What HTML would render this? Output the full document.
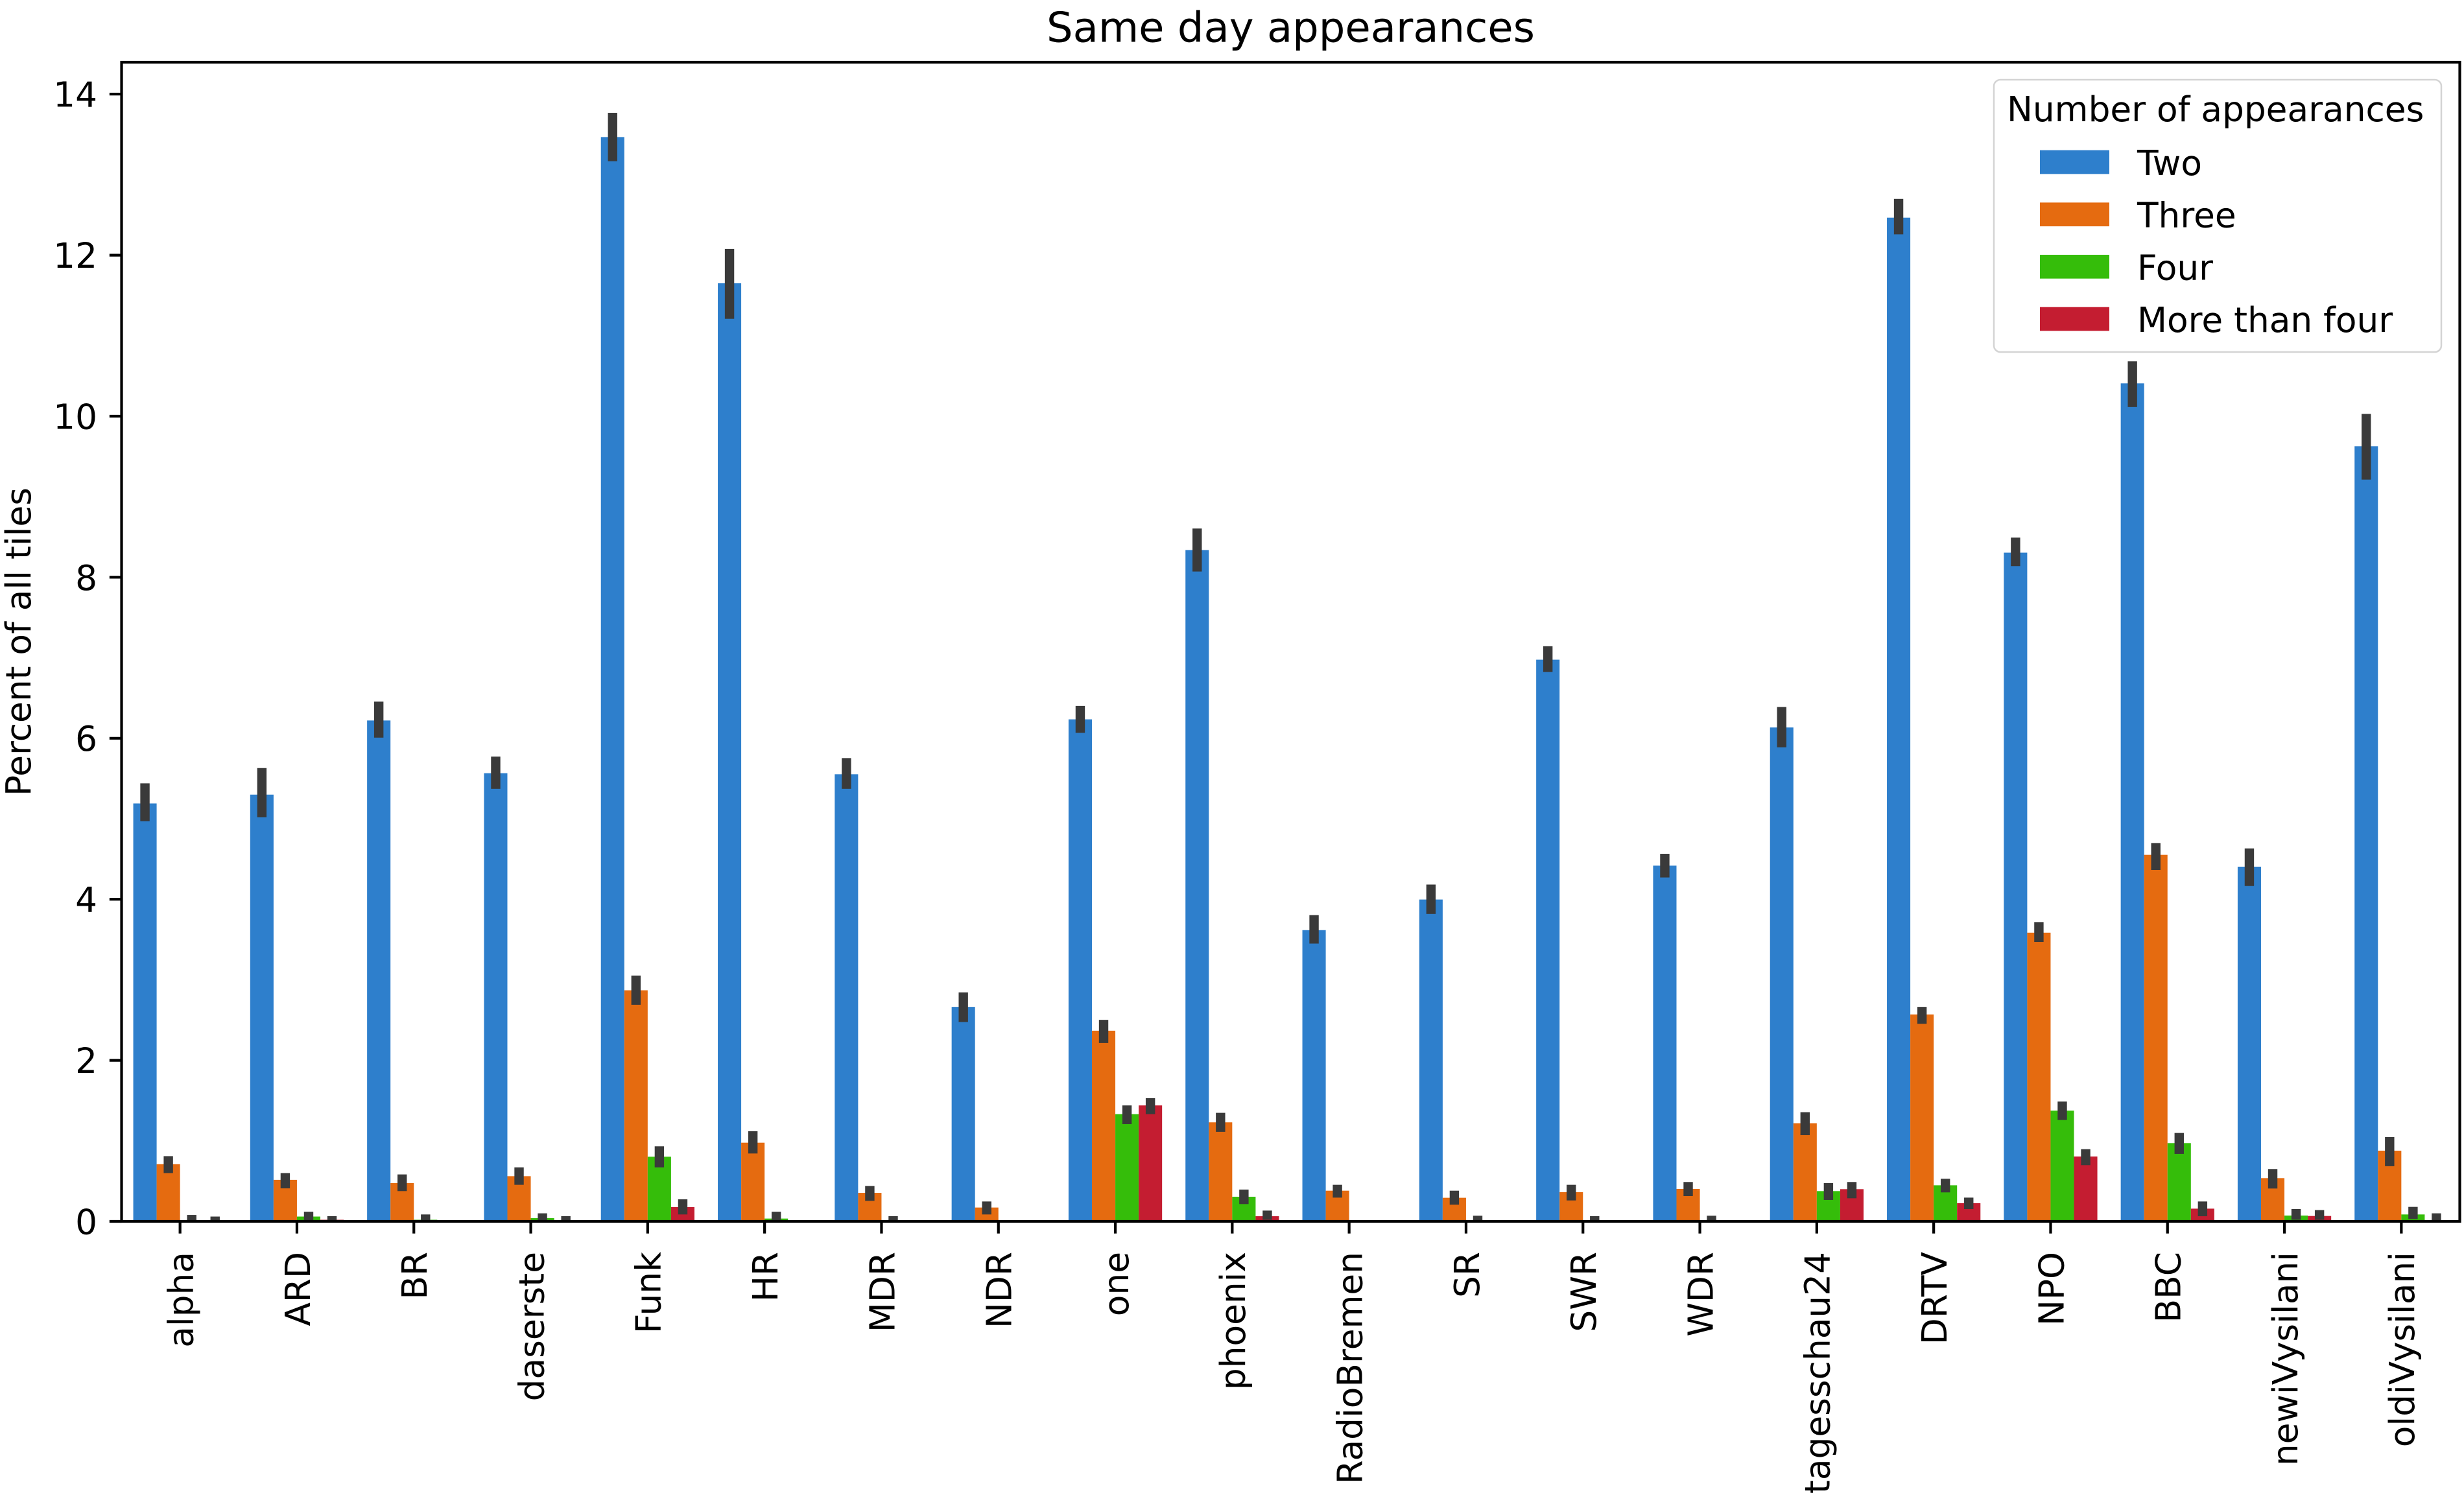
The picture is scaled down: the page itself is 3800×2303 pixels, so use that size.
<!DOCTYPE html>
<html>
<head>
<meta charset="utf-8">
<style>
html,body{margin:0;padding:0;background:#fff;}
svg{display:block;}
text{font-family:"DejaVu Sans","Liberation Sans",sans-serif;fill:#000;}
.b{fill:#2e7fcc}.o{fill:#e56b10}.g{fill:#35bd0a}.r{fill:#c41d31}.e{fill:#3a3a3a}
.xt{font-size:53.3px;}
</style>
</head>
<body>
<svg width="3800" height="2303" viewBox="0 0 3800 2303" xmlns="http://www.w3.org/2000/svg">
<rect x="0" y="0" width="3800" height="2303" fill="#fff"/>

<!-- bars (data units in y) -->
<g transform="translate(0,1884) scale(1,-124.2)">
  <!-- alpha -->
  <g transform="translate(277.65,0)">
    <rect class="b" x="-72.12" y="0" width="36.06" height="5.19"/>
    <rect class="o" x="-36.06" y="0" width="36.06" height="0.71"/>
    <rect class="g" x="0" y="0" width="36.06" height="0.015"/>
    <rect class="r" x="36.06" y="0" width="36.06" height="0.01"/>
    <rect class="e" x="-61.29" y="4.97" width="14.4" height="0.47"/>
    <rect class="e" x="-25.23" y="0.60" width="14.4" height="0.21"/>
    <rect class="e" x="10.83" y="0" width="14.4" height="0.08"/>
    <rect class="e" x="46.89" y="0" width="14.4" height="0.06"/>
  </g>
  <!-- ARD -->
  <g transform="translate(457.95,0)">
    <rect class="b" x="-72.12" y="0" width="36.06" height="5.30"/>
    <rect class="o" x="-36.06" y="0" width="36.06" height="0.516"/>
    <rect class="g" x="0" y="0" width="36.06" height="0.06"/>
    <rect class="r" x="36.06" y="0" width="36.06" height="0.02"/>
    <rect class="e" x="-61.29" y="5.02" width="14.4" height="0.61"/>
    <rect class="e" x="-25.23" y="0.41" width="14.4" height="0.19"/>
    <rect class="e" x="10.83" y="0.01" width="14.4" height="0.11"/>
    <rect class="e" x="46.89" y="0" width="14.4" height="0.065"/>
  </g>
  <!-- BR -->
  <g transform="translate(638.25,0)">
    <rect class="b" x="-72.12" y="0" width="36.06" height="6.221"/>
    <rect class="o" x="-36.06" y="0" width="36.06" height="0.475"/>
    <rect class="g" x="0" y="0" width="36.06" height="0.02"/>
    <rect class="e" x="-61.29" y="6.008" width="14.4" height="0.447"/>
    <rect class="e" x="-25.23" y="0.376" width="14.4" height="0.207"/>
    <rect class="e" x="10.83" y="0" width="14.4" height="0.086"/>
  </g>
  <!-- daserste -->
  <g transform="translate(818.55,0)">
    <rect class="b" x="-72.12" y="0" width="36.06" height="5.566"/>
    <rect class="o" x="-36.06" y="0" width="36.06" height="0.561"/>
    <rect class="g" x="0" y="0" width="36.06" height="0.04"/>
    <rect class="r" x="36.06" y="0" width="36.06" height="0.01"/>
    <rect class="e" x="-61.29" y="5.372" width="14.4" height="0.401"/>
    <rect class="e" x="-25.23" y="0.454" width="14.4" height="0.217"/>
    <rect class="e" x="10.83" y="0.01" width="14.4" height="0.09"/>
    <rect class="e" x="46.89" y="0" width="14.4" height="0.065"/>
  </g>
  <!-- Funk -->
  <g transform="translate(998.85,0)">
    <rect class="b" x="-72.12" y="0" width="36.06" height="13.467"/>
    <rect class="o" x="-36.06" y="0" width="36.06" height="2.87"/>
    <rect class="g" x="0" y="0" width="36.06" height="0.803"/>
    <rect class="r" x="36.06" y="0" width="36.06" height="0.177"/>
    <rect class="e" x="-61.29" y="13.167" width="14.4" height="0.601"/>
    <rect class="e" x="-25.23" y="2.69" width="14.4" height="0.363"/>
    <rect class="e" x="10.83" y="0.671" width="14.4" height="0.261"/>
    <rect class="e" x="46.89" y="0.086" width="14.4" height="0.188"/>
  </g>
  <!-- HR -->
  <g transform="translate(1179.15,0)">
    <rect class="b" x="-72.12" y="0" width="36.06" height="11.651"/>
    <rect class="o" x="-36.06" y="0" width="36.06" height="0.977"/>
    <rect class="g" x="0" y="0" width="36.06" height="0.035"/>
    <rect class="e" x="-61.29" y="11.21" width="14.4" height="0.868"/>
    <rect class="e" x="-25.23" y="0.843" width="14.4" height="0.277"/>
    <rect class="e" x="10.83" y="0" width="14.4" height="0.12"/>
  </g>
  <!-- MDR -->
  <g transform="translate(1359.45,0)">
    <rect class="b" x="-72.12" y="0" width="36.06" height="5.553"/>
    <rect class="o" x="-36.06" y="0" width="36.06" height="0.354"/>
    <rect class="g" x="0" y="0" width="36.06" height="0.015"/>
    <rect class="e" x="-61.29" y="5.372" width="14.4" height="0.382"/>
    <rect class="e" x="-25.23" y="0.255" width="14.4" height="0.185"/>
    <rect class="e" x="10.83" y="0" width="14.4" height="0.065"/>
  </g>
  <!-- NDR -->
  <g transform="translate(1539.75,0)">
    <rect class="b" x="-72.12" y="0" width="36.06" height="2.664"/>
    <rect class="o" x="-36.06" y="0" width="36.06" height="0.172"/>
    <rect class="e" x="-61.29" y="2.476" width="14.4" height="0.368"/>
    <rect class="e" x="-25.23" y="0.086" width="14.4" height="0.161"/>
  </g>
  <!-- one -->
  <g transform="translate(1720.05,0)">
    <rect class="b" x="-72.12" y="0" width="36.06" height="6.235"/>
    <rect class="o" x="-36.06" y="0" width="36.06" height="2.368"/>
    <rect class="g" x="0" y="0" width="36.06" height="1.332"/>
    <rect class="r" x="36.06" y="0" width="36.06" height="1.44"/>
    <rect class="e" x="-61.29" y="6.067" width="14.4" height="0.335"/>
    <rect class="e" x="-25.23" y="2.215" width="14.4" height="0.288"/>
    <rect class="e" x="10.83" y="1.208" width="14.4" height="0.232"/>
    <rect class="e" x="46.89" y="1.332" width="14.4" height="0.198"/>
  </g>
  <!-- phoenix -->
  <g transform="translate(1900.35,0)">
    <rect class="b" x="-72.12" y="0" width="36.06" height="8.338"/>
    <rect class="o" x="-36.06" y="0" width="36.06" height="1.23"/>
    <rect class="g" x="0" y="0" width="36.06" height="0.306"/>
    <rect class="r" x="36.06" y="0" width="36.06" height="0.064"/>
    <rect class="e" x="-61.29" y="8.071" width="14.4" height="0.534"/>
    <rect class="e" x="-25.23" y="1.112" width="14.4" height="0.236"/>
    <rect class="e" x="10.83" y="0.215" width="14.4" height="0.18"/>
    <rect class="e" x="46.89" y="0.02" width="14.4" height="0.114"/>
  </g>
  <!-- RadioBremen -->
  <g transform="translate(2080.65,0)">
    <rect class="b" x="-72.12" y="0" width="36.06" height="3.617"/>
    <rect class="o" x="-36.06" y="0" width="36.06" height="0.381"/>
    <rect class="e" x="-61.29" y="3.45" width="14.4" height="0.354"/>
    <rect class="e" x="-25.23" y="0.295" width="14.4" height="0.159"/>
  </g>
  <!-- SR -->
  <g transform="translate(2260.95,0)">
    <rect class="b" x="-72.12" y="0" width="36.06" height="3.997"/>
    <rect class="o" x="-36.06" y="0" width="36.06" height="0.293"/>
    <rect class="g" x="0" y="0" width="36.06" height="0.01"/>
    <rect class="e" x="-61.29" y="3.818" width="14.4" height="0.365"/>
    <rect class="e" x="-25.23" y="0.207" width="14.4" height="0.174"/>
    <rect class="e" x="10.83" y="0" width="14.4" height="0.07"/>
  </g>
  <!-- SWR -->
  <g transform="translate(2441.25,0)">
    <rect class="b" x="-72.12" y="0" width="36.06" height="6.976"/>
    <rect class="o" x="-36.06" y="0" width="36.06" height="0.363"/>
    <rect class="g" x="0" y="0" width="36.06" height="0.01"/>
    <rect class="e" x="-61.29" y="6.823" width="14.4" height="0.32"/>
    <rect class="e" x="-25.23" y="0.26" width="14.4" height="0.194"/>
    <rect class="e" x="10.83" y="0" width="14.4" height="0.065"/>
  </g>
  <!-- WDR -->
  <g transform="translate(2621.55,0)">
    <rect class="b" x="-72.12" y="0" width="36.06" height="4.418"/>
    <rect class="o" x="-36.06" y="0" width="36.06" height="0.403"/>
    <rect class="g" x="0" y="0" width="36.06" height="0.01"/>
    <rect class="e" x="-61.29" y="4.271" width="14.4" height="0.294"/>
    <rect class="e" x="-25.23" y="0.314" width="14.4" height="0.175"/>
    <rect class="e" x="10.83" y="0" width="14.4" height="0.07"/>
  </g>
  <!-- tagesschau24 -->
  <g transform="translate(2801.85,0)">
    <rect class="b" x="-72.12" y="0" width="36.06" height="6.134"/>
    <rect class="o" x="-36.06" y="0" width="36.06" height="1.219"/>
    <rect class="g" x="0" y="0" width="36.06" height="0.376"/>
    <rect class="r" x="36.06" y="0" width="36.06" height="0.40"/>
    <rect class="e" x="-61.29" y="5.888" width="14.4" height="0.5"/>
    <rect class="e" x="-25.23" y="1.071" width="14.4" height="0.285"/>
    <rect class="e" x="10.83" y="0.266" width="14.4" height="0.209"/>
    <rect class="e" x="46.89" y="0.287" width="14.4" height="0.202"/>
  </g>
  <!-- DRTV -->
  <g transform="translate(2982.15,0)">
    <rect class="b" x="-72.12" y="0" width="36.06" height="12.466"/>
    <rect class="o" x="-36.06" y="0" width="36.06" height="2.57"/>
    <rect class="g" x="0" y="0" width="36.06" height="0.448"/>
    <rect class="r" x="36.06" y="0" width="36.06" height="0.226"/>
    <rect class="e" x="-61.29" y="12.259" width="14.4" height="0.44"/>
    <rect class="e" x="-25.23" y="2.454" width="14.4" height="0.21"/>
    <rect class="e" x="10.83" y="0.36" width="14.4" height="0.169"/>
    <rect class="e" x="46.89" y="0.153" width="14.4" height="0.142"/>
  </g>
  <!-- NPO -->
  <g transform="translate(3162.45,0)">
    <rect class="b" x="-72.12" y="0" width="36.06" height="8.305"/>
    <rect class="o" x="-36.06" y="0" width="36.06" height="3.585"/>
    <rect class="g" x="0" y="0" width="36.06" height="1.375"/>
    <rect class="r" x="36.06" y="0" width="36.06" height="0.806"/>
    <rect class="e" x="-61.29" y="8.138" width="14.4" height="0.354"/>
    <rect class="e" x="-25.23" y="3.47" width="14.4" height="0.247"/>
    <rect class="e" x="10.83" y="1.259" width="14.4" height="0.229"/>
    <rect class="e" x="46.89" y="0.698" width="14.4" height="0.199"/>
  </g>
  <!-- BBC -->
  <g transform="translate(3342.75,0)">
    <rect class="b" x="-72.12" y="0" width="36.06" height="10.408"/>
    <rect class="o" x="-36.06" y="0" width="36.06" height="4.552"/>
    <rect class="g" x="0" y="0" width="36.06" height="0.972"/>
    <rect class="r" x="36.06" y="0" width="36.06" height="0.158"/>
    <rect class="e" x="-61.29" y="10.114" width="14.4" height="0.568"/>
    <rect class="e" x="-25.23" y="4.364" width="14.4" height="0.335"/>
    <rect class="e" x="10.83" y="0.838" width="14.4" height="0.26"/>
    <rect class="e" x="46.89" y="0.064" width="14.4" height="0.183"/>
  </g>
  <!-- newiVysilani -->
  <g transform="translate(3523.05,0)">
    <rect class="b" x="-72.12" y="0" width="36.06" height="4.405"/>
    <rect class="o" x="-36.06" y="0" width="36.06" height="0.537"/>
    <rect class="g" x="0" y="0" width="36.06" height="0.072"/>
    <rect class="r" x="36.06" y="0" width="36.06" height="0.067"/>
    <rect class="e" x="-61.29" y="4.165" width="14.4" height="0.467"/>
    <rect class="e" x="-25.23" y="0.408" width="14.4" height="0.242"/>
    <rect class="e" x="10.83" y="0.02" width="14.4" height="0.133"/>
    <rect class="e" x="46.89" y="0.02" width="14.4" height="0.12"/>
  </g>
  <!-- oldiVysilani -->
  <g transform="translate(3703.35,0)">
    <rect class="b" x="-72.12" y="0" width="36.06" height="9.627"/>
    <rect class="o" x="-36.06" y="0" width="36.06" height="0.878"/>
    <rect class="g" x="0" y="0" width="36.06" height="0.086"/>
    <rect class="r" x="36.06" y="0" width="36.06" height="0.01"/>
    <rect class="e" x="-61.29" y="9.213" width="14.4" height="0.815"/>
    <rect class="e" x="-25.23" y="0.685" width="14.4" height="0.362"/>
    <rect class="e" x="10.83" y="0.03" width="14.4" height="0.15"/>
    <rect class="e" x="46.89" y="0" width="14.4" height="0.10"/>
  </g>
</g>

<!-- spines -->
<rect x="187.5" y="96" width="3606" height="1788" fill="none" stroke="#000" stroke-width="4.2"/>

<!-- y ticks -->
<g stroke="#000" stroke-width="4.2">
  <line x1="168.8" y1="1884" x2="187.5" y2="1884"/>
  <line x1="168.8" y1="1635.6" x2="187.5" y2="1635.6"/>
  <line x1="168.8" y1="1387.2" x2="187.5" y2="1387.2"/>
  <line x1="168.8" y1="1138.8" x2="187.5" y2="1138.8"/>
  <line x1="168.8" y1="890.4" x2="187.5" y2="890.4"/>
  <line x1="168.8" y1="642" x2="187.5" y2="642"/>
  <line x1="168.8" y1="393.6" x2="187.5" y2="393.6"/>
  <line x1="168.8" y1="145.2" x2="187.5" y2="145.2"/>
</g>
<g font-size="53.3" text-anchor="end">
  <text x="150" y="1903.4">0</text>
  <text x="150" y="1655">2</text>
  <text x="150" y="1406.6">4</text>
  <text x="150" y="1158.2">6</text>
  <text x="150" y="909.8">8</text>
  <text x="150" y="661.4">10</text>
  <text x="150" y="413">12</text>
  <text x="150" y="164.6">14</text>
</g>

<!-- x ticks -->
<g stroke="#000" stroke-width="4.2">
  <line x1="277.65" y1="1884" x2="277.65" y2="1902.7"/>
  <line x1="457.95" y1="1884" x2="457.95" y2="1902.7"/>
  <line x1="638.25" y1="1884" x2="638.25" y2="1902.7"/>
  <line x1="818.55" y1="1884" x2="818.55" y2="1902.7"/>
  <line x1="998.85" y1="1884" x2="998.85" y2="1902.7"/>
  <line x1="1179.15" y1="1884" x2="1179.15" y2="1902.7"/>
  <line x1="1359.45" y1="1884" x2="1359.45" y2="1902.7"/>
  <line x1="1539.75" y1="1884" x2="1539.75" y2="1902.7"/>
  <line x1="1720.05" y1="1884" x2="1720.05" y2="1902.7"/>
  <line x1="1900.35" y1="1884" x2="1900.35" y2="1902.7"/>
  <line x1="2080.65" y1="1884" x2="2080.65" y2="1902.7"/>
  <line x1="2260.95" y1="1884" x2="2260.95" y2="1902.7"/>
  <line x1="2441.25" y1="1884" x2="2441.25" y2="1902.7"/>
  <line x1="2621.55" y1="1884" x2="2621.55" y2="1902.7"/>
  <line x1="2801.85" y1="1884" x2="2801.85" y2="1902.7"/>
  <line x1="2982.15" y1="1884" x2="2982.15" y2="1902.7"/>
  <line x1="3162.45" y1="1884" x2="3162.45" y2="1902.7"/>
  <line x1="3342.75" y1="1884" x2="3342.75" y2="1902.7"/>
  <line x1="3523.05" y1="1884" x2="3523.05" y2="1902.7"/>
  <line x1="3703.35" y1="1884" x2="3703.35" y2="1902.7"/>
</g>
<g class="xt" text-anchor="end">
  <text transform="translate(297.45,1931) rotate(-90)">alpha</text>
  <text transform="translate(477.75,1931) rotate(-90)">ARD</text>
  <text transform="translate(658.05,1931) rotate(-90)">BR</text>
  <text transform="translate(838.35,1931) rotate(-90)">daserste</text>
  <text transform="translate(1018.65,1931) rotate(-90)">Funk</text>
  <text transform="translate(1198.95,1931) rotate(-90)">HR</text>
  <text transform="translate(1379.25,1931) rotate(-90)">MDR</text>
  <text transform="translate(1559.55,1931) rotate(-90)">NDR</text>
  <text transform="translate(1739.85,1931) rotate(-90)">one</text>
  <text transform="translate(1920.15,1931) rotate(-90)">phoenix</text>
  <text transform="translate(2100.45,1931) rotate(-90)">RadioBremen</text>
  <text transform="translate(2280.75,1931) rotate(-90)">SR</text>
  <text transform="translate(2461.05,1931) rotate(-90)">SWR</text>
  <text transform="translate(2641.35,1931) rotate(-90)">WDR</text>
  <text transform="translate(2821.65,1931) rotate(-90)">tagesschau24</text>
  <text transform="translate(3001.95,1931) rotate(-90)">DRTV</text>
  <text transform="translate(3182.25,1931) rotate(-90)">NPO</text>
  <text transform="translate(3362.55,1931) rotate(-90)">BBC</text>
  <text transform="translate(3542.85,1931) rotate(-90)">newiVysilani</text>
  <text transform="translate(3723.15,1931) rotate(-90)">oldiVysilani</text>
</g>

<!-- y label -->
<text transform="translate(47,990) rotate(-90)" font-size="53.3" text-anchor="middle">Percent of all tiles</text>

<!-- title -->
<text x="1990.5" y="64.5" font-size="64" text-anchor="middle">Same day appearances</text>

<!-- legend -->
<rect x="3075" y="123" width="690" height="420" rx="10" ry="10" fill="#fff" fill-opacity="0.8" stroke="#d4d4d4" stroke-width="2.5"/>
<text x="3095" y="187" font-size="53.3">Number of appearances</text>
<rect class="b" x="3146" y="231.7" width="107" height="36.7"/>
<rect class="o" x="3146" y="312.4" width="107" height="36.7"/>
<rect class="g" x="3146" y="393" width="107" height="36.7"/>
<rect class="r" x="3146" y="473.7" width="107" height="36.7"/>
<g font-size="53.3">
  <text x="3296" y="270">Two</text>
  <text x="3296" y="350.7">Three</text>
  <text x="3296" y="431.4">Four</text>
  <text x="3296" y="512">More than four</text>
</g>
</svg>
</body>
</html>
